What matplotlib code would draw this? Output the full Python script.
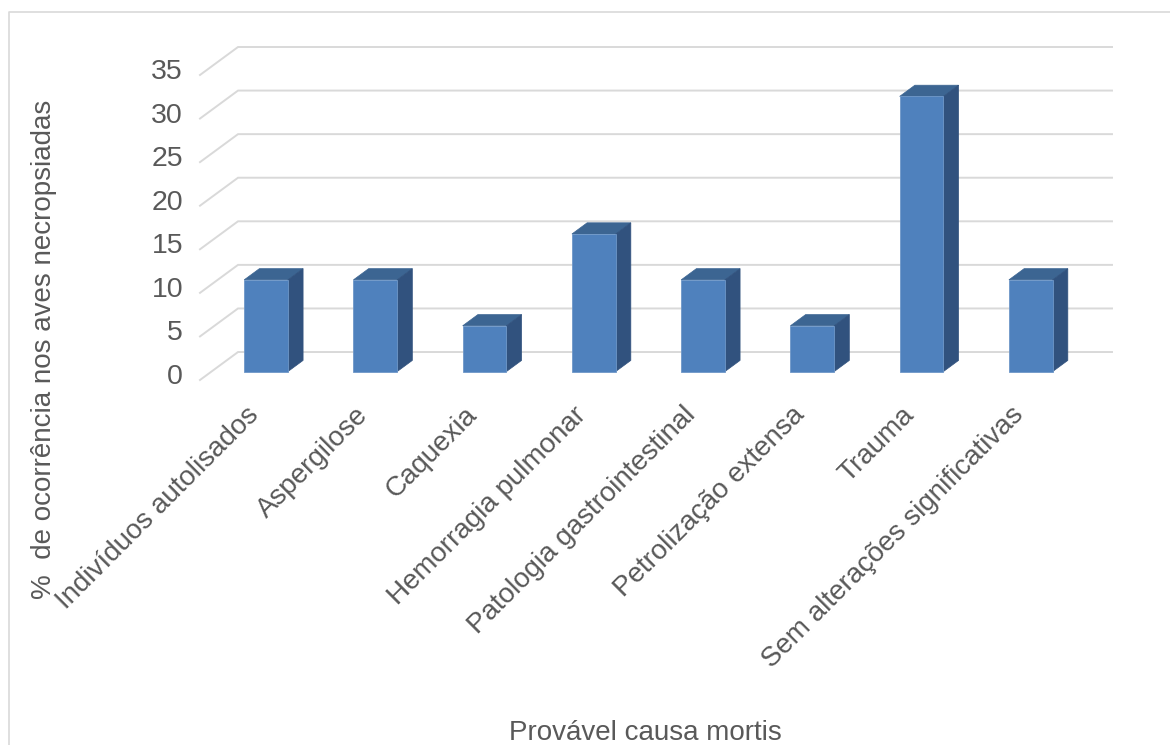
import numpy as np
import matplotlib
matplotlib.use("Agg")
import matplotlib.pyplot as plt
from matplotlib.patches import Polygon
from matplotlib.lines import Line2D
from matplotlib.transforms import offset_copy

# causas prováveis de morte (% das aves necropsiadas)
categories = ['Indivíduos autolisados', 'Aspergilose', 'Caquexia',
              'Hemorragia pulmonar', 'Patologia gastrointestinal',
              'Petrolização extensa', 'Trauma',
              'Sem alterações significativas']
values = [10.53, 10.53, 5.26, 15.79, 10.53, 5.26, 31.58, 10.53]
yticks = [0, 5, 10, 15, 20, 25, 30, 35]

plt.rcParams['font.family'] = ['Liberation Sans', 'DejaVu Sans']
TXT = '#595959'
GRID = '#D9D9D9'
FRONT = '#4F81BD'
SIDE = '#31527E'
TOP = '#3C6592'

# fake 3d: going "back" shifts by KX categories and KY value units
KX, KY = 0.348, 3.21
D0, D1 = 0.30, 0.70  # depth of the front and back face of the bars
W = 0.40


def proj(x, y, d):
    return x + d * KX, y + d * KY


fig = plt.figure(figsize=(11.7, 7.45), dpi=100)
ax = fig.add_axes([200 / 1170, 1 - 380 / 745, 912 / 1170, 333 / 745])
ax.set_xlim(-0.5, len(categories) - 0.5 + KX)
ax.set_ylim(0, yticks[-1] + KY)
ax.axis('off')

# back wall gridlines + left wall diagonals
for t in yticks:
    x0, y0 = proj(-0.5, t, 0)
    x1, y1 = proj(-0.5, t, 1)
    x2, y2 = proj(len(categories) - 0.5, t, 1)
    ax.add_line(Line2D([x0, x1, x2], [y0, y1, y2], color=GRID, lw=1.4,
                       zorder=1, clip_on=False, solid_joinstyle='miter'))
    ax.text(x0, y0, str(t), transform=offset_copy(ax.transData, fig, x=-17, y=3, units='dots'),
            ha='right', va='center', fontsize=20.5, color=TXT)

# bars: front face via bar(), top and side faces as polygons
xs = np.arange(len(categories))
fx, b = proj(xs, 0, D0)
ax.bar(fx, values, width=W, bottom=b, color=FRONT, edgecolor='#6E97C8',
       linewidth=0.6, zorder=3)
dx, dy = (D1 - D0) * KX, (D1 - D0) * KY
for x, v in zip(fx, values):
    l, r = x - W / 2, x + W / 2
    top = [(l, b + v), (r, b + v), (r + dx, b + v + dy), (l + dx, b + v + dy)]
    side = [(r, b), (r + dx, b + dy), (r + dx, b + v + dy), (r, b + v)]
    ax.add_patch(Polygon(top, closed=True, facecolor=TOP, edgecolor=TOP, lw=0.5, zorder=2))
    ax.add_patch(Polygon(side, closed=True, facecolor=SIDE, edgecolor=SIDE, lw=0.5, zorder=2))

# category labels, rotated 45 degrees under each bar
for x, name in zip(fx, categories):
    ax.text(x, 0, name, rotation=45, ha='right', va='top', fontsize=20, color=TXT,
            transform=offset_copy(ax.transData, fig, x=-2, y=-22, units='dots'))

fig.text(44 / 1170, 1 - 349 / 745, '%  de ocorrência nos aves necropsiadas',
         rotation=90, ha='center', va='center', fontsize=20, color=TXT)
fig.text(645 / 1170, 1 - 733 / 745, 'Provável causa mortis',
         ha='center', va='center', fontsize=20, color=TXT)

# chart area border
fig.add_artist(Line2D([9 / 1170, 9 / 1170, 1.0], [0.0, 1 - 12 / 745, 1 - 12 / 745],
                      transform=fig.transFigure, color=GRID, lw=1.2))

fig.savefig('out.png', dpi=100, facecolor='white')
